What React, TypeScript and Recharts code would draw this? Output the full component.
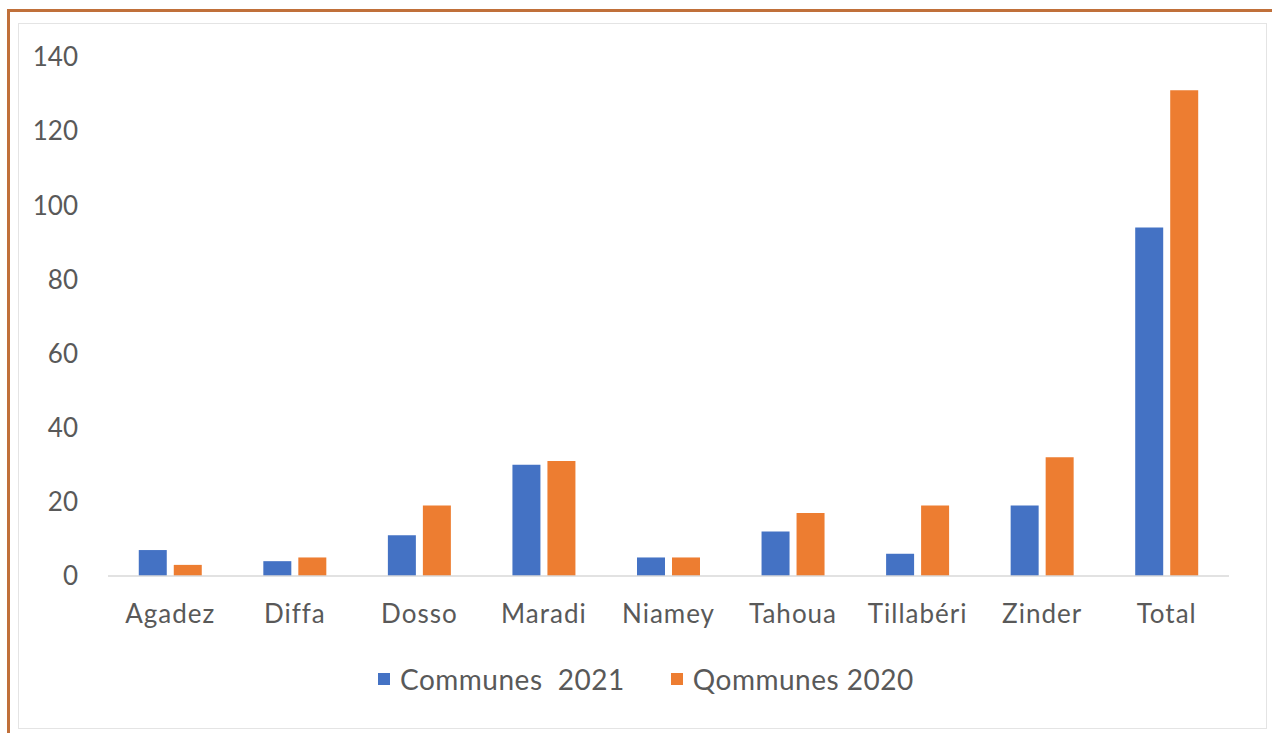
import { BarChart, Bar, XAxis, YAxis } from "recharts";

const regions = ["Agadez", "Diffa", "Dosso", "Maradi", "Niamey", "Tahoua", "Tillabéri", "Zinder", "Total"];
const communes2021 = [7, 4, 11, 30, 5, 12, 6, 19, 94];
const communes2020 = [3, 5, 19, 31, 5, 17, 19, 32, 131];
const seriesNames = ["Communes  2021", "Qommunes 2020"];
const yTicks = [0, 20, 40, 60, 80, 100, 120, 140];

const BLUE = "#4472C4";
const ORANGE = "#ED7D31";
const TEXT = "#595959";
const FONT = "Lato, 'Open Sans', sans-serif";
const colors = [BLUE, ORANGE];

const data = regions.map((r, i) => ({
  region: r,
  c2021: communes2021[i],
  c2020: communes2020[i],
}));

export default function App() {
  return (
    <div
      style={{
        position: "absolute",
        left: 0,
        top: 0,
        width: 1272,
        height: 733,
        background: "#fff",
        overflow: "hidden",
        fontFamily: FONT,
      }}
    >
      {/* orange frame */}
      <div
        style={{
          position: "absolute",
          left: 7,
          top: 9,
          width: 1280,
          height: 740,
          borderLeft: "3px solid #C0703A",
          borderTop: "3px solid #C0703A",
        }}
      />
      {/* inner chart panel */}
      <div
        style={{
          position: "absolute",
          left: 18,
          top: 23,
          width: 1247,
          height: 704,
          border: "1px solid #e4e4e4",
        }}
      />
      <div style={{ position: "absolute", left: 0, top: 0 }}>
        <BarChart
          width={1272}
          height={733}
          data={data}
          margin={{ top: 57, right: 43, bottom: 127, left: 30 }}
          barCategoryGap="24.7%"
          barGap={7}
        >
          <XAxis
            dataKey="region"
            axisLine={{ stroke: "#d9d9d9", strokeWidth: 1.5 }}
            tickLine={false}
            tickMargin={23}
            tick={{ fill: TEXT, fontSize: 26, fontFamily: FONT, letterSpacing: 1 }}
            interval={0}
          />
          <YAxis
            width={78}
            domain={[0, 140]}
            ticks={yTicks}
            axisLine={false}
            tickLine={false}
            tickMargin={24}
            tick={{ fill: TEXT, fontSize: 26, fontFamily: FONT }}
          />
          <Bar dataKey="c2021" name={seriesNames[0]} fill={BLUE} isAnimationActive={false} />
          <Bar dataKey="c2020" name={seriesNames[1]} fill={ORANGE} isAnimationActive={false} />
        </BarChart>
      </div>
      {/* legend */}
      <div
        style={{
          position: "absolute",
          top: 662,
          left: 378,
          display: "flex",
          fontSize: 28,
          letterSpacing: 0.5,
          color: TEXT,
          whiteSpace: "pre",
        }}
      >
        {seriesNames.map((n, i) => (
          <div key={n} style={{ display: "flex", alignItems: "center", marginRight: i === 0 ? 46 : 0 }}>
            <span style={{ display: "inline-block", width: 12, height: 12, background: colors[i], marginRight: 10 }} />
            <span>{n}</span>
          </div>
        ))}
      </div>
    </div>
  );
}
